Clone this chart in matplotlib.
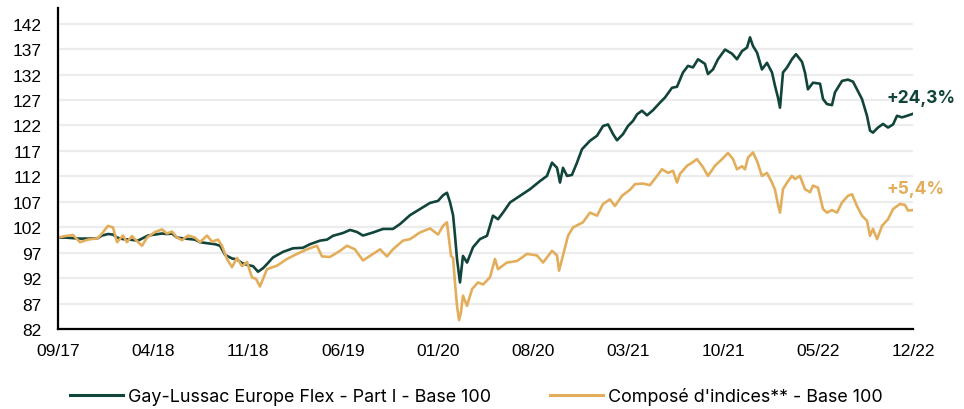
import matplotlib
matplotlib.use("Agg")
import matplotlib.pyplot as plt
from matplotlib.lines import Line2D

# ---- data (x = months since 09/2017) ----
fund_months = [0, 0.52, 1.11, 1.62, 2.36, 2.95, 3.24, 3.68, 4.05, 4.35, 4.79, 5.31, 5.89, 6.26,
               6.63, 7.15, 7.66, 8.03, 8.40, 8.77, 9.36, 10.09, 10.46, 10.98, 11.57, 11.94, 12.31,
               12.82, 13.19, 13.56, 14.00, 14.37, 14.74, 15.11, 15.40, 15.84, 16.58, 17.32, 18.05,
               18.57, 19.31, 19.82, 20.26, 21.00, 21.52, 22.03, 22.47, 23.21, 23.95, 24.68, 25.20,
               25.94, 26.67, 27.41, 28.00, 28.37, 28.66, 28.88, 29.11, 29.25, 29.40, 29.62, 29.84,
               30.14, 30.58, 31.09, 31.61, 32.05, 32.42, 32.79, 33.31, 34.04, 34.78, 35.52, 36.03,
               36.40, 36.77, 36.99, 37.21, 37.51, 37.87, 38.24, 38.61, 39.20, 39.72, 40.16, 40.53,
               40.90, 41.19, 41.63, 42.00, 42.37, 42.67, 43.03, 43.40, 43.84, 44.36, 44.73, 45.24,
               45.61, 46.05, 46.42, 46.79, 47.16, 47.67, 47.89, 48.26, 48.63, 49.15, 49.66, 50.03,
               50.40, 50.77, 50.99, 51.21, 51.51, 51.87, 52.24, 52.61, 52.83, 53.05, 53.20, 53.42,
               53.72, 54.08, 54.38, 54.82, 55.04, 55.26, 55.63, 56.15, 56.37, 56.66, 57.03, 57.25,
               57.77, 58.21, 58.58, 58.87, 59.24, 59.61, 59.83, 60.05, 60.42, 60.79, 61.16, 61.53,
               61.82, 62.19, 62.56, 63.00]
fund_values = [100.0, 100.0, 99.9, 99.8, 99.8, 99.9, 100.4, 100.7, 100.6, 100.0, 99.7, 99.6, 99.4, 99.9,
               100.4, 100.6, 100.8, 100.7, 100.8, 100.0, 99.8, 99.6, 99.1, 98.9, 98.7, 98.4, 96.6,
               95.9, 95.7, 95.0, 94.6, 94.4, 93.3, 94.0, 94.8, 96.1, 97.2, 97.9, 98.0,
               98.7, 99.4, 99.6, 100.35, 100.9, 101.5, 101.1, 100.4, 101.0, 101.7, 101.7, 102.65,
               104.4, 105.6, 106.8, 107.2, 108.3, 108.8, 107.0, 104.4, 100.5, 95.8, 91.2, 96.4,
               95.1, 98.1, 99.7, 100.35, 104.3, 103.6, 104.9, 106.9, 108.2, 109.5, 111.1, 112.1,
               114.7, 113.7, 110.8, 113.7, 112.1, 112.3, 114.7, 117.35, 119.0, 120.0, 121.9, 122.2,
               120.3, 119.1, 120.3, 121.9, 122.9, 124.2, 124.9, 124.0, 125.0, 126.5, 127.5, 129.4,
               129.6, 132.4, 133.7, 133.4, 135.0, 134.1, 132.1, 133.0, 135.0, 136.9, 136.1, 135.0,
               136.6, 137.3, 139.3, 137.6, 136.3, 133.0, 134.3, 132.4, 129.8, 127.5, 125.5, 132.4,
               133.4, 135.0, 136.0, 134.5, 132.4, 129.1, 130.4, 130.2, 127.2, 126.2, 126.0, 128.5,
               130.75, 131.0, 130.6, 129.1, 127.2, 123.9, 121.0, 120.6, 121.6, 122.3, 121.6, 122.2,
               123.9, 123.6, 123.9, 124.3]

index_months = [0, 0.52, 1.11, 1.62, 2.21, 2.95, 3.24, 3.68, 4.05, 4.35, 4.79, 5.08, 5.45, 5.82,
                6.19, 6.56, 7.15, 7.66, 8.03, 8.40, 8.77, 9.14, 9.58, 10.09, 10.46, 10.98, 11.35,
                11.79, 12.08, 12.45, 12.82, 13.19, 13.56, 13.93, 14.29, 14.59, 14.88, 15.40, 16.14,
                16.87, 17.61, 18.35, 19.08, 19.45, 20.04, 20.78, 21.29, 21.88, 22.47, 23.21, 23.73,
                24.24, 24.68, 25.42, 25.94, 26.67, 27.41, 28.00, 28.37, 28.66, 28.96, 29.11, 29.25,
                29.40, 29.55, 29.69, 29.84, 30.14, 30.51, 30.95, 31.32, 31.83, 32.20, 32.42, 33.08,
                33.82, 34.56, 35.29, 35.74, 36.40, 36.77, 36.92, 37.21, 37.58, 37.95, 38.68, 39.20,
                39.72, 40.16, 40.67, 41.04, 41.56, 42.15, 42.52, 43.11, 43.62, 44.14, 44.51, 44.95,
                45.32, 45.61, 45.83, 46.35, 46.72, 47.08, 47.53, 47.89, 48.41, 48.93, 49.37, 49.74,
                50.03, 50.40, 50.62, 50.84, 51.21, 51.51, 51.87, 52.24, 52.61, 52.83, 53.05, 53.20,
                53.42, 53.72, 54.08, 54.31, 54.67, 55.04, 55.41, 55.63, 56.00, 56.37, 56.66, 57.03,
                57.40, 57.77, 58.21, 58.51, 58.87, 59.24, 59.61, 59.83, 60.05, 60.35, 60.72, 61.16,
                61.53, 62.04, 62.41, 62.63, 63.00]
index_values = [100.0, 100.3, 100.5, 99.1, 99.6, 99.9, 100.8, 102.3, 102.0, 99.1, 100.4, 99.1, 100.3, 99.3,
                98.4, 100.0, 101.1, 101.6, 100.8, 101.2, 100.0, 99.5, 100.4, 100.0, 99.1, 100.4, 99.2,
                99.6, 98.4, 95.8, 94.2, 96.0, 94.4, 95.2, 92.2, 91.9, 90.4, 93.8, 94.5,
                95.8, 96.8, 97.7, 98.4, 96.3, 96.2, 97.4, 98.4, 97.7, 95.5, 96.8, 97.7,
                96.3, 97.7, 99.4, 99.7, 101.0, 101.8, 100.6, 102.3, 103.0, 96.4, 96.0, 91.2,
                86.6, 83.8, 85.3, 88.6, 86.6, 89.9, 91.2, 90.8, 92.2, 95.8, 93.8, 95.1,
                95.4, 96.8, 96.5, 95.1, 97.4, 96.5, 93.5, 96.5, 100.35, 102.0, 103.0, 104.9,
                104.3, 106.6, 107.5, 106.2, 108.2, 109.4, 110.5, 110.6, 110.3, 112.1, 113.4, 112.7,
                113.1, 110.8, 112.5, 114.1, 114.7, 115.4, 113.8, 112.1, 114.1, 115.4, 116.6, 115.4,
                113.4, 114.0, 113.4, 115.7, 116.7, 115.0, 112.1, 112.7, 110.8, 109.4, 106.5, 104.9,
                109.5, 110.8, 112.1, 111.5, 112.1, 109.5, 108.9, 110.2, 109.8, 105.6, 104.9, 105.4,
                104.9, 106.9, 108.2, 108.5, 106.2, 104.3, 103.3, 100.35, 101.7, 99.7, 102.3, 103.6,
                105.6, 106.6, 106.4, 105.3, 105.4]

tick_months = [0, 7, 14, 21, 28, 35, 42, 49, 56, 63]
tick_labels = ["09/17", "04/18", "11/18", "06/19", "01/20", "08/20", "03/21", "10/21", "05/22", "12/22"]
y_ticks = [82, 87, 92, 97, 102, 107, 112, 117, 122, 127, 132, 137, 142]

series_names = ["Gay-Lussac Europe Flex - Part I - Base 100", "Composé d'indices** - Base 100"]
end_labels = ["+24,3%", "+5,4%"]

GREEN = "#11443a"
GOLD = "#e2ae5c"

fig = plt.figure(figsize=(9.64, 4.10), dpi=100)
ax = fig.add_axes([58/964, 1 - 330.3/410, (913-58)/964, (330.3-9.3)/410])

ax.plot(fund_months, fund_values, color=GREEN, lw=1.9, zorder=3, solid_joinstyle="round")
ax.plot(index_months, index_values, color=GOLD, lw=1.9, zorder=4, solid_joinstyle="round")

ax.set_xlim(0, 63)
ax.set_ylim(82, 145)
ax.set_yticks(y_ticks)
ax.set_xticks(tick_months)
ax.set_xticklabels(tick_labels)
ax.grid(axis="y", color="#ececec", lw=1.6, zorder=0)
ax.set_axisbelow(True)
for s in ["top", "right"]:
    ax.spines[s].set_visible(False)
for s in ["left", "bottom"]:
    ax.spines[s].set_color("black")
    ax.spines[s].set_linewidth(1.6)
    ax.spines[s].set_zorder(5)
ax.tick_params(axis="both", length=0, labelsize=12.5, colors="black")
ax.tick_params(axis="y", pad=12)
ax.tick_params(axis="x", pad=10)
for lab in ax.get_xticklabels() + ax.get_yticklabels():
    lab.set_fontfamily(["Liberation Sans", "DejaVu Sans"])

ax.annotate(end_labels[0], xy=(fund_months[-1], fund_values[-1]), xytext=(-26, 16),
            textcoords="offset pixels", color=GREEN, fontsize=12.5, fontweight="bold",
            ha="left", va="center", family=["Inter", "DejaVu Sans"], annotation_clip=False)
ax.annotate(end_labels[1], xy=(index_months[-1], index_values[-1]), xytext=(-27, 22),
            textcoords="offset pixels", color=GOLD, fontsize=12.5, fontweight="bold",
            ha="left", va="center", family=["Inter", "DejaVu Sans"], annotation_clip=False)

handles = [Line2D([], [], color=GREEN, lw=2.2), Line2D([], [], color=GOLD, lw=2.2)]
fig.legend(handles, series_names, loc="center left", bbox_to_anchor=(70/964, 1 - 397/410),
           ncol=2, frameon=False, borderpad=0, borderaxespad=0, handlelength=2.95,
           handletextpad=0.28, columnspacing=3.3,
           prop={"family": ["Inter", "DejaVu Sans"], "size": 12.9})

fig.savefig("out.png", dpi=100)
